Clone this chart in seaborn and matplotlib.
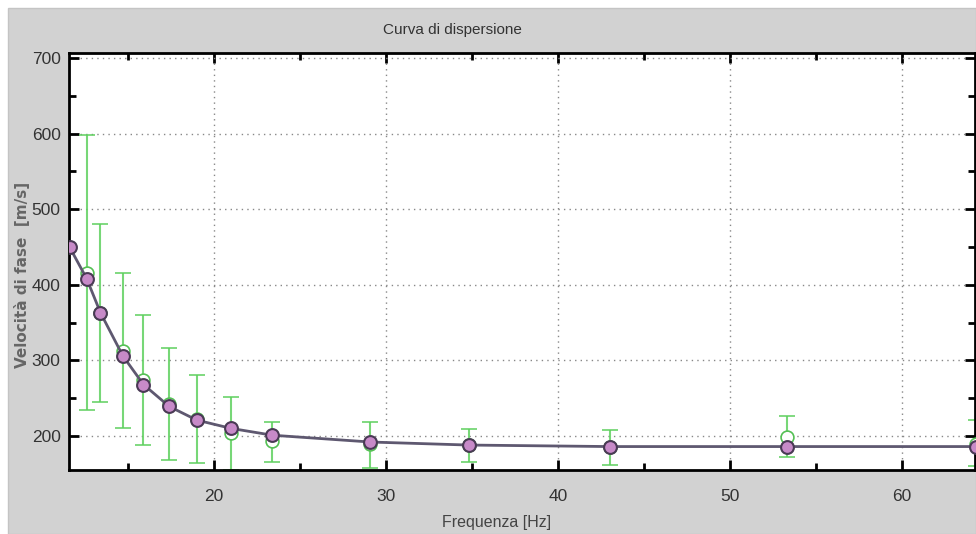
import matplotlib
matplotlib.use("Agg")
import matplotlib.pyplot as plt
from matplotlib.patches import Rectangle
from matplotlib.ticker import MultipleLocator
from matplotlib import font_manager
import seaborn as sns
import numpy as np

# --- data ---
freq = [11.6, 12.6, 13.4, 14.7, 15.9, 17.4, 19.0, 21.0, 23.4, 29.1, 34.8, 43.0, 53.3, 64.3]
velocity = [450, 408, 363, 306, 268, 239, 221, 210, 201, 192, 188, 186, 186, 186]
err_center = [np.nan, 416, 362, 313, 274, 242, 222, 204, 193, 189, 188, 185, 199, 190]
err_low = [np.nan, 235, 245, 211, 188, 168, 164, 155, 166, 158, 166, 162, 172, 160]
err_high = [np.nan, 598, 480, 416, 360, 317, 281, 252, 219, 219, 209, 208, 226, 221]
x_ticks = [20, 30, 40, 50, 60]
y_ticks = [200, 300, 400, 500, 600, 700]
title = "Curva di dispersione"
xlabel = "Frequenza [Hz]"
ylabel = "Velocità di fase  [m/s]"

sns.set_theme(style="white")
names = {f.name for f in font_manager.fontManager.ttflist}
narrow = "Liberation Sans Narrow" if "Liberation Sans Narrow" in names else "Liberation Sans"
plt.rcParams["font.family"] = [narrow, "DejaVu Sans"]

W, H = 976, 534
fig = plt.figure(figsize=(W / 100, H / 100), dpi=100, facecolor="white")
bg = Rectangle((8 / W, 0), 1 - 8 / W, 1 - 8 / H, transform=fig.transFigure,
               facecolor="#d2d2d2", edgecolor="#c4c4c4", lw=1, zorder=-10)
fig.patches.append(bg)

ax = fig.add_axes([69 / W, 1 - 470 / H, 906 / W, 417 / H])
ax.set_zorder(1)
ax.set_facecolor("white")

# error bars
ec = np.array(err_center, dtype=float)
yerr = [ec - np.array(err_low, dtype=float), np.array(err_high, dtype=float) - ec]
ax.errorbar(freq, ec, yerr=yerr, fmt="none", ecolor="#5fd05f", elinewidth=1.5,
            capsize=6, capthick=1.3, alpha=0.85, zorder=2)
sns.scatterplot(x=freq, y=ec, ax=ax, marker="o", s=85, facecolor="white",
                edgecolor="#55c055", linewidth=1.2, zorder=3)

# main curve
sns.lineplot(x=freq, y=velocity, ax=ax, color="#5e5870", linewidth=2.0, zorder=4)
sns.scatterplot(x=freq, y=velocity, ax=ax, marker="o", s=85, color="#c78ac8",
                edgecolor="#4a3a55", linewidth=1.5, zorder=5)

ax.set_xlim(11.57, 64.25)
ax.set_ylim(155, 706.5)
ax.set_xticks(x_ticks)
ax.set_yticks(y_ticks)
ax.xaxis.set_minor_locator(MultipleLocator(5))
ax.yaxis.set_minor_locator(MultipleLocator(50))
ax.grid(True, which="major", color="#888888", linestyle=(0, (1, 3)), linewidth=1.0)
ax.set_axisbelow(True)

for s in ax.spines.values():
    s.set_visible(True)
    s.set_color("black")
    s.set_linewidth(2.0)

ax.tick_params(axis="both", which="both", direction="in", top=True, right=True,
               bottom=True, left=True, color="black")
ax.tick_params(axis="both", which="major", length=7, width=2)
ax.tick_params(axis="both", which="minor", length=5, width=2)
ax.tick_params(axis="x", which="major", pad=14, labelsize=12.5, labelcolor="#333333")
ax.tick_params(axis="y", which="major", pad=6, labelsize=12.5, labelcolor="#333333")

ax.set_xlabel("")
ax.set_ylabel("")
fig.text(452 / W, 1 - 30 / H, title, ha="center", va="center", fontsize=11, color="#333333")
fig.text(497 / W, 1 - 522 / H, xlabel, ha="center", va="center", fontsize=11.5, color="#444444")
fig.text(22 / W, 1 - 275 / H, ylabel, ha="center", va="center", rotation=90,
         fontsize=11, color="#666666", fontweight="bold", family=["DejaVu Sans"])

if ax.get_legend() is not None:
    ax.get_legend().remove()

fig.savefig("out.png", dpi=100, facecolor=fig.get_facecolor())
